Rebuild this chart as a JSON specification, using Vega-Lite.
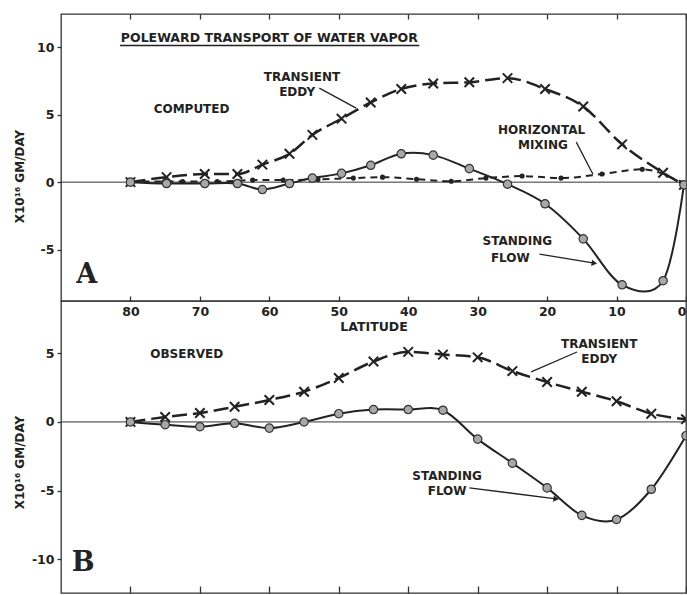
{
  "$schema": "https://vega.github.io/schema/vega-lite/v6.json",
  "background": "white",
  "padding": {"left": 12, "top": 12, "right": 0, "bottom": 0},
  "spacing": 0,
  "bounds": "flush",
  "config": {
    "view": {"stroke": "#333", "strokeWidth": 1.3},
    "font": "DejaVu Sans",
    "axis": {
      "labelFont": "DejaVu Sans", "labelFontWeight": "bold", "labelFontSize": 12.5, "labelColor": "#222",
      "titleFont": "DejaVu Sans", "titleFontWeight": "bold", "titleColor": "#222", "titleFontSize": 12.5,
      "tickColor": "#333", "tickWidth": 1.3, "domain": false, "grid": false
    }
  },
  "datasets": {
    "computed": [
      {"series": "TE", "lat": 80, "value": 0}, {"series": "TE", "lat": 74.8, "value": 0.37}, {"series": "TE", "lat": 69.3, "value": 0.6},
      {"series": "TE", "lat": 64.6, "value": 0.6}, {"series": "TE", "lat": 61.0, "value": 1.3}, {"series": "TE", "lat": 57.1, "value": 2.1},
      {"series": "TE", "lat": 53.8, "value": 3.5}, {"series": "TE", "lat": 49.6, "value": 4.7}, {"series": "TE", "lat": 45.4, "value": 5.9},
      {"series": "TE", "lat": 41.0, "value": 6.9}, {"series": "TE", "lat": 36.4, "value": 7.3}, {"series": "TE", "lat": 31.2, "value": 7.4},
      {"series": "TE", "lat": 25.7, "value": 7.7}, {"series": "TE", "lat": 20.3, "value": 6.9}, {"series": "TE", "lat": 14.8, "value": 5.6},
      {"series": "TE", "lat": 9.2, "value": 2.8}, {"series": "TE", "lat": 3.3, "value": 0.7}, {"series": "TE", "lat": 0.3, "value": -0.2},
      {"series": "SF", "lat": 80, "value": 0}, {"series": "SF", "lat": 74.8, "value": -0.1}, {"series": "SF", "lat": 69.3, "value": -0.1},
      {"series": "SF", "lat": 64.6, "value": -0.1}, {"series": "SF", "lat": 61.0, "value": -0.55}, {"series": "SF", "lat": 57.1, "value": -0.1},
      {"series": "SF", "lat": 53.8, "value": 0.3}, {"series": "SF", "lat": 49.6, "value": 0.65}, {"series": "SF", "lat": 45.4, "value": 1.25},
      {"series": "SF", "lat": 41.0, "value": 2.1}, {"series": "SF", "lat": 36.4, "value": 2.0}, {"series": "SF", "lat": 31.2, "value": 1.0},
      {"series": "SF", "lat": 25.7, "value": -0.15}, {"series": "SF", "lat": 20.3, "value": -1.6}, {"series": "SF", "lat": 14.8, "value": -4.2},
      {"series": "SF", "lat": 9.2, "value": -7.6}, {"series": "SF", "lat": 3.3, "value": -7.3}, {"series": "SF", "lat": 0.3, "value": -0.2},
      {"series": "HM", "lat": 80, "value": 0.05}, {"series": "HM", "lat": 72.5, "value": 0.05}, {"series": "HM", "lat": 67.5, "value": 0.05},
      {"series": "HM", "lat": 62.4, "value": 0.15}, {"series": "HM", "lat": 58.0, "value": 0.15}, {"series": "HM", "lat": 53.0, "value": 0.2},
      {"series": "HM", "lat": 47.9, "value": 0.3}, {"series": "HM", "lat": 43.7, "value": 0.37}, {"series": "HM", "lat": 38.8, "value": 0.22},
      {"series": "HM", "lat": 33.8, "value": 0.07}, {"series": "HM", "lat": 28.8, "value": 0.3}, {"series": "HM", "lat": 23.6, "value": 0.45},
      {"series": "HM", "lat": 18.0, "value": 0.3}, {"series": "HM", "lat": 12.1, "value": 0.6}, {"series": "HM", "lat": 6.3, "value": 0.95},
      {"series": "HM", "lat": 0.6, "value": -0.07}
    ],
    "observed": [
      {"series": "TE", "lat": 80, "value": 0}, {"series": "TE", "lat": 75, "value": 0.36}, {"series": "TE", "lat": 70, "value": 0.65},
      {"series": "TE", "lat": 65, "value": 1.1}, {"series": "TE", "lat": 60, "value": 1.6}, {"series": "TE", "lat": 55, "value": 2.2},
      {"series": "TE", "lat": 50, "value": 3.2}, {"series": "TE", "lat": 45, "value": 4.4}, {"series": "TE", "lat": 40, "value": 5.1},
      {"series": "TE", "lat": 35, "value": 4.9}, {"series": "TE", "lat": 30, "value": 4.7}, {"series": "TE", "lat": 25, "value": 3.7},
      {"series": "TE", "lat": 20, "value": 2.9}, {"series": "TE", "lat": 15, "value": 2.2}, {"series": "TE", "lat": 10, "value": 1.5},
      {"series": "TE", "lat": 5, "value": 0.6}, {"series": "TE", "lat": 0, "value": 0.2},
      {"series": "SF", "lat": 80, "value": 0}, {"series": "SF", "lat": 75, "value": -0.2}, {"series": "SF", "lat": 70, "value": -0.35},
      {"series": "SF", "lat": 65, "value": -0.1}, {"series": "SF", "lat": 60, "value": -0.45}, {"series": "SF", "lat": 55, "value": 0},
      {"series": "SF", "lat": 50, "value": 0.6}, {"series": "SF", "lat": 45, "value": 0.9}, {"series": "SF", "lat": 40, "value": 0.9},
      {"series": "SF", "lat": 35, "value": 0.85}, {"series": "SF", "lat": 30, "value": -1.25}, {"series": "SF", "lat": 25, "value": -3.0},
      {"series": "SF", "lat": 20, "value": -4.8}, {"series": "SF", "lat": 15, "value": -6.8}, {"series": "SF", "lat": 10, "value": -7.1},
      {"series": "SF", "lat": 5, "value": -4.9}, {"series": "SF", "lat": 0, "value": -1.0}
    ],
    "labels_computed": [
      {"lat": 55.3, "value": 7.78, "text": "TRANSIENT"}, {"lat": 56.0, "value": 6.67, "text": "EDDY"},
      {"lat": 71.2, "value": 5.41, "text": "COMPUTED"},
      {"lat": 20.8, "value": 3.85, "text": "HORIZONTAL"}, {"lat": 20.6, "value": 2.74, "text": "MIXING"},
      {"lat": 24.3, "value": -4.37, "text": "STANDING"}, {"lat": 25.3, "value": -5.63, "text": "FLOW"}
    ],
    "leaders_computed": [
      {"lat": 52.8, "value": 6.96, "lat2": 47.5, "value2": 5.48},
      {"lat": 15.8, "value": 2.96, "lat2": 13.4, "value2": 0.59},
      {"lat": 21.1, "value": -5.33, "lat2": 13.2, "value2": -6.0}
    ],
    "labels_observed": [
      {"lat": 71.9, "value": 4.95, "text": "OBSERVED"},
      {"lat": 12.5, "value": 5.67, "text": "TRANSIENT"}, {"lat": 12.5, "value": 4.58, "text": "EDDY"},
      {"lat": 34.4, "value": -3.93, "text": "STANDING"}, {"lat": 34.4, "value": -5.02, "text": "FLOW"}
    ],
    "leaders_observed": [
      {"lat": 15.7, "value": 5.09, "lat2": 22.3, "value2": 3.64},
      {"lat": 31.2, "value": -4.8, "lat2": 18.7, "value2": -5.6}
    ]
  },
  "vconcat": [
    {
      "width": 625,
      "height": 287,
      "resolve": {"axis": {"x": "independent"}},
      "layer": [
        {
          "data": {"values": [{"value": 0}]},
          "mark": {"type": "rule", "color": "#333", "strokeWidth": 1},
          "encoding": {
            "y": {"field": "value", "type": "quantitative", "scale": {"domain": [-8.8, 12.45], "nice": false, "zero": false},
                  "axis": {"orient": "left", "values": [10, 5, 0, -5], "labelExpr": "'' + datum.value", "tickSize": 4, "labelPadding": 3,
                           "title": "X10¹⁶ GM/DAY", "titleX": -42, "titleY": 162, "titleBaseline": "middle", "titleAngle": -90, "titleFontSize": 12}}
          }
        },
        {
          "data": {"name": "computed"},
          "transform": [{"filter": "datum.series == 'TE'"}],
          "mark": {"type": "line", "color": "#222", "strokeWidth": 2.5, "strokeDash": [15, 6], "interpolate": "monotone", "clip": true},
          "encoding": {
            "x": {"field": "lat", "type": "quantitative", "scale": {"domain": [90, 0], "nice": false, "zero": false},
                  "axis": {"orient": "bottom", "values": [80, 70, 60, 50, 40, 30, 20, 10, 0], "ticks": false, "labelPadding": 4, "labelFlush": true,
                           "title": "LATITUDE", "titlePadding": 3}},
            "y": {"field": "value", "type": "quantitative", "scale": {"domain": [-8.8, 12.45], "nice": false, "zero": false}}
          }
        },
        {
          "data": {"name": "computed"},
          "transform": [{"filter": "datum.series == 'TE'"}],
          "mark": {"type": "point", "shape": "M-1,-1L1,1M-1,1L1,-1", "size": 90, "filled": false, "stroke": "#222", "strokeWidth": 2, "opacity": 1, "clip": true},
          "encoding": {
            "x": {"field": "lat", "type": "quantitative", "scale": {"domain": [90, 0], "nice": false, "zero": false},
                  "axis": {"orient": "top", "values": [80, 70, 60, 50, 40, 30, 20, 10, 0], "tickSize": -5, "labels": false, "title": null}},
            "y": {"field": "value", "type": "quantitative", "scale": {"domain": [-8.8, 12.45], "nice": false, "zero": false}}
          }
        },
        {
          "data": {"name": "computed"},
          "transform": [{"filter": "datum.series == 'HM'"}],
          "mark": {"type": "line", "color": "#222", "strokeWidth": 2, "strokeDash": [7, 5], "interpolate": "monotone", "clip": true},
          "encoding": {
            "x": {"field": "lat", "type": "quantitative", "scale": {"domain": [90, 0], "nice": false, "zero": false}, "axis": null},
            "y": {"field": "value", "type": "quantitative", "scale": {"domain": [-8.8, 12.45], "nice": false, "zero": false}}
          }
        },
        {
          "data": {"name": "computed"},
          "transform": [{"filter": "datum.series == 'HM'"}],
          "mark": {"type": "point", "shape": "circle", "size": 26, "filled": true, "color": "#222", "opacity": 1, "clip": true},
          "encoding": {
            "x": {"field": "lat", "type": "quantitative", "scale": {"domain": [90, 0], "nice": false, "zero": false}, "axis": null},
            "y": {"field": "value", "type": "quantitative", "scale": {"domain": [-8.8, 12.45], "nice": false, "zero": false}}
          }
        },
        {
          "data": {"name": "computed"},
          "transform": [{"filter": "datum.series == 'SF'"}],
          "mark": {"type": "line", "color": "#222", "strokeWidth": 2, "interpolate": "cardinal", "clip": true},
          "encoding": {
            "x": {"field": "lat", "type": "quantitative", "scale": {"domain": [90, 0], "nice": false, "zero": false}, "axis": null},
            "y": {"field": "value", "type": "quantitative", "scale": {"domain": [-8.8, 12.45], "nice": false, "zero": false}}
          }
        },
        {
          "data": {"name": "computed"},
          "transform": [{"filter": "datum.series == 'SF'"}],
          "mark": {"type": "point", "shape": "circle", "size": 70, "filled": true, "fill": "#a8a8a8", "stroke": "#333", "strokeWidth": 1.2, "opacity": 1, "clip": true},
          "encoding": {
            "x": {"field": "lat", "type": "quantitative", "scale": {"domain": [90, 0], "nice": false, "zero": false}, "axis": null},
            "y": {"field": "value", "type": "quantitative", "scale": {"domain": [-8.8, 12.45], "nice": false, "zero": false}}
          }
        },
        {
          "data": {"name": "leaders_computed"},
          "mark": {"type": "rule", "color": "#222", "strokeWidth": 1.3},
          "encoding": {
            "x": {"field": "lat", "type": "quantitative", "scale": {"domain": [90, 0], "nice": false, "zero": false}, "axis": null},
            "x2": {"field": "lat2"},
            "y": {"field": "value", "type": "quantitative", "scale": {"domain": [-8.8, 12.45], "nice": false, "zero": false}},
            "y2": {"field": "value2"}
          }
        },
        {
          "data": {"values": [{"lat": 13.2, "value": -6.0}]},
          "mark": {"type": "point", "shape": "triangle-right", "size": 40, "angle": 9, "filled": true, "color": "#222", "opacity": 1},
          "encoding": {
            "x": {"field": "lat", "type": "quantitative", "scale": {"domain": [90, 0], "nice": false, "zero": false}, "axis": null},
            "y": {"field": "value", "type": "quantitative", "scale": {"domain": [-8.8, 12.45], "nice": false, "zero": false}}
          }
        },
        {
          "data": {"name": "labels_computed"},
          "mark": {"type": "text", "font": "DejaVu Sans", "fontWeight": "bold", "fontSize": 12, "color": "#222", "align": "center", "baseline": "middle"},
          "encoding": {
            "x": {"field": "lat", "type": "quantitative", "scale": {"domain": [90, 0], "nice": false, "zero": false}, "axis": null},
            "y": {"field": "value", "type": "quantitative", "scale": {"domain": [-8.8, 12.45], "nice": false, "zero": false}},
            "text": {"field": "text"}
          }
        },
        {
          "data": {"values": [{"lat": 60.0, "value": 10.67, "text": "POLEWARD TRANSPORT OF WATER VAPOR"}]},
          "mark": {"type": "text", "font": "DejaVu Sans", "fontWeight": "bold", "fontSize": 12.5, "color": "#222", "align": "center", "baseline": "middle"},
          "encoding": {
            "x": {"field": "lat", "type": "quantitative", "scale": {"domain": [90, 0], "nice": false, "zero": false}, "axis": null},
            "y": {"field": "value", "type": "quantitative", "scale": {"domain": [-8.8, 12.45], "nice": false, "zero": false}},
            "text": {"field": "text"}
          }
        },
        {
          "data": {"values": [{"lat": 81.5, "lat2": 38.4, "value": 10.12}]},
          "mark": {"type": "rule", "color": "#222", "strokeWidth": 1.5},
          "encoding": {
            "x": {"field": "lat", "type": "quantitative", "scale": {"domain": [90, 0], "nice": false, "zero": false}, "axis": null},
            "x2": {"field": "lat2"},
            "y": {"field": "value", "type": "quantitative", "scale": {"domain": [-8.8, 12.45], "nice": false, "zero": false}}
          }
        },
        {
          "data": {"values": [{"lat": 86.3, "value": -6.89, "text": "A"}]},
          "mark": {"type": "text", "font": "DejaVu Serif", "fontWeight": "bold", "fontSize": 27, "color": "#222", "align": "center", "baseline": "middle"},
          "encoding": {
            "x": {"field": "lat", "type": "quantitative", "scale": {"domain": [90, 0], "nice": false, "zero": false}, "axis": null},
            "y": {"field": "value", "type": "quantitative", "scale": {"domain": [-8.8, 12.45], "nice": false, "zero": false}},
            "text": {"field": "text"}
          }
        }
      ]
    },
    {
      "width": 625,
      "height": 292,
      "resolve": {"axis": {"x": "independent"}},
      "layer": [
        {
          "data": {"values": [{"value": 0}]},
          "mark": {"type": "rule", "color": "#333", "strokeWidth": 1},
          "encoding": {
            "y": {"field": "value", "type": "quantitative", "scale": {"domain": [-12.45, 8.8], "nice": false, "zero": false},
                  "axis": {"orient": "left", "values": [5, 0, -5, -10], "labelExpr": "'' + datum.value", "tickSize": 4, "labelPadding": 3,
                           "title": "X10¹⁶ GM/DAY", "titleX": -42, "titleY": 161, "titleBaseline": "middle", "titleAngle": -90, "titleFontSize": 12}}
          }
        },
        {
          "data": {"name": "observed"},
          "transform": [{"filter": "datum.series == 'TE'"}],
          "mark": {"type": "line", "color": "#222", "strokeWidth": 2.5, "strokeDash": [15, 6], "interpolate": "monotone", "clip": true},
          "encoding": {
            "x": {"field": "lat", "type": "quantitative", "scale": {"domain": [90, 0], "nice": false, "zero": false},
                  "axis": {"orient": "top", "values": [80, 70, 60, 50, 40, 30, 20, 10, 0], "tickSize": 5, "labels": false, "title": null}},
            "y": {"field": "value", "type": "quantitative", "scale": {"domain": [-12.45, 8.8], "nice": false, "zero": false}}
          }
        },
        {
          "data": {"name": "observed"},
          "transform": [{"filter": "datum.series == 'TE'"}],
          "mark": {"type": "point", "shape": "M-1,-1L1,1M-1,1L1,-1", "size": 90, "filled": false, "stroke": "#222", "strokeWidth": 2, "opacity": 1, "clip": true},
          "encoding": {
            "x": {"field": "lat", "type": "quantitative", "scale": {"domain": [90, 0], "nice": false, "zero": false},
                  "axis": {"orient": "bottom", "values": [80, 70, 60, 50, 40, 30, 20, 10, 0], "tickSize": -7, "labels": false, "title": null}},
            "y": {"field": "value", "type": "quantitative", "scale": {"domain": [-12.45, 8.8], "nice": false, "zero": false}}
          }
        },
        {
          "data": {"name": "observed"},
          "transform": [{"filter": "datum.series == 'SF'"}],
          "mark": {"type": "line", "color": "#222", "strokeWidth": 2, "interpolate": "cardinal", "clip": true},
          "encoding": {
            "x": {"field": "lat", "type": "quantitative", "scale": {"domain": [90, 0], "nice": false, "zero": false}, "axis": null},
            "y": {"field": "value", "type": "quantitative", "scale": {"domain": [-12.45, 8.8], "nice": false, "zero": false}}
          }
        },
        {
          "data": {"name": "observed"},
          "transform": [{"filter": "datum.series == 'SF'"}],
          "mark": {"type": "point", "shape": "circle", "size": 70, "filled": true, "fill": "#a8a8a8", "stroke": "#333", "strokeWidth": 1.2, "opacity": 1, "clip": true},
          "encoding": {
            "x": {"field": "lat", "type": "quantitative", "scale": {"domain": [90, 0], "nice": false, "zero": false}, "axis": null},
            "y": {"field": "value", "type": "quantitative", "scale": {"domain": [-12.45, 8.8], "nice": false, "zero": false}}
          }
        },
        {
          "data": {"name": "leaders_observed"},
          "mark": {"type": "rule", "color": "#222", "strokeWidth": 1.3},
          "encoding": {
            "x": {"field": "lat", "type": "quantitative", "scale": {"domain": [90, 0], "nice": false, "zero": false}, "axis": null},
            "x2": {"field": "lat2"},
            "y": {"field": "value", "type": "quantitative", "scale": {"domain": [-12.45, 8.8], "nice": false, "zero": false}},
            "y2": {"field": "value2"}
          }
        },
        {
          "data": {"values": [{"lat": 18.7, "value": -5.6}]},
          "mark": {"type": "point", "shape": "triangle-right", "size": 40, "angle": 7, "filled": true, "color": "#222", "opacity": 1},
          "encoding": {
            "x": {"field": "lat", "type": "quantitative", "scale": {"domain": [90, 0], "nice": false, "zero": false}, "axis": null},
            "y": {"field": "value", "type": "quantitative", "scale": {"domain": [-12.45, 8.8], "nice": false, "zero": false}}
          }
        },
        {
          "data": {"name": "labels_observed"},
          "mark": {"type": "text", "font": "DejaVu Sans", "fontWeight": "bold", "fontSize": 12, "color": "#222", "align": "center", "baseline": "middle"},
          "encoding": {
            "x": {"field": "lat", "type": "quantitative", "scale": {"domain": [90, 0], "nice": false, "zero": false}, "axis": null},
            "y": {"field": "value", "type": "quantitative", "scale": {"domain": [-12.45, 8.8], "nice": false, "zero": false}},
            "text": {"field": "text"}
          }
        },
        {
          "data": {"values": [{"lat": 86.8, "value": -10.25, "text": "B"}]},
          "mark": {"type": "text", "font": "DejaVu Serif", "fontWeight": "bold", "fontSize": 27, "color": "#222", "align": "center", "baseline": "middle"},
          "encoding": {
            "x": {"field": "lat", "type": "quantitative", "scale": {"domain": [90, 0], "nice": false, "zero": false}, "axis": null},
            "y": {"field": "value", "type": "quantitative", "scale": {"domain": [-12.45, 8.8], "nice": false, "zero": false}},
            "text": {"field": "text"}
          }
        }
      ]
    }
  ]
}
